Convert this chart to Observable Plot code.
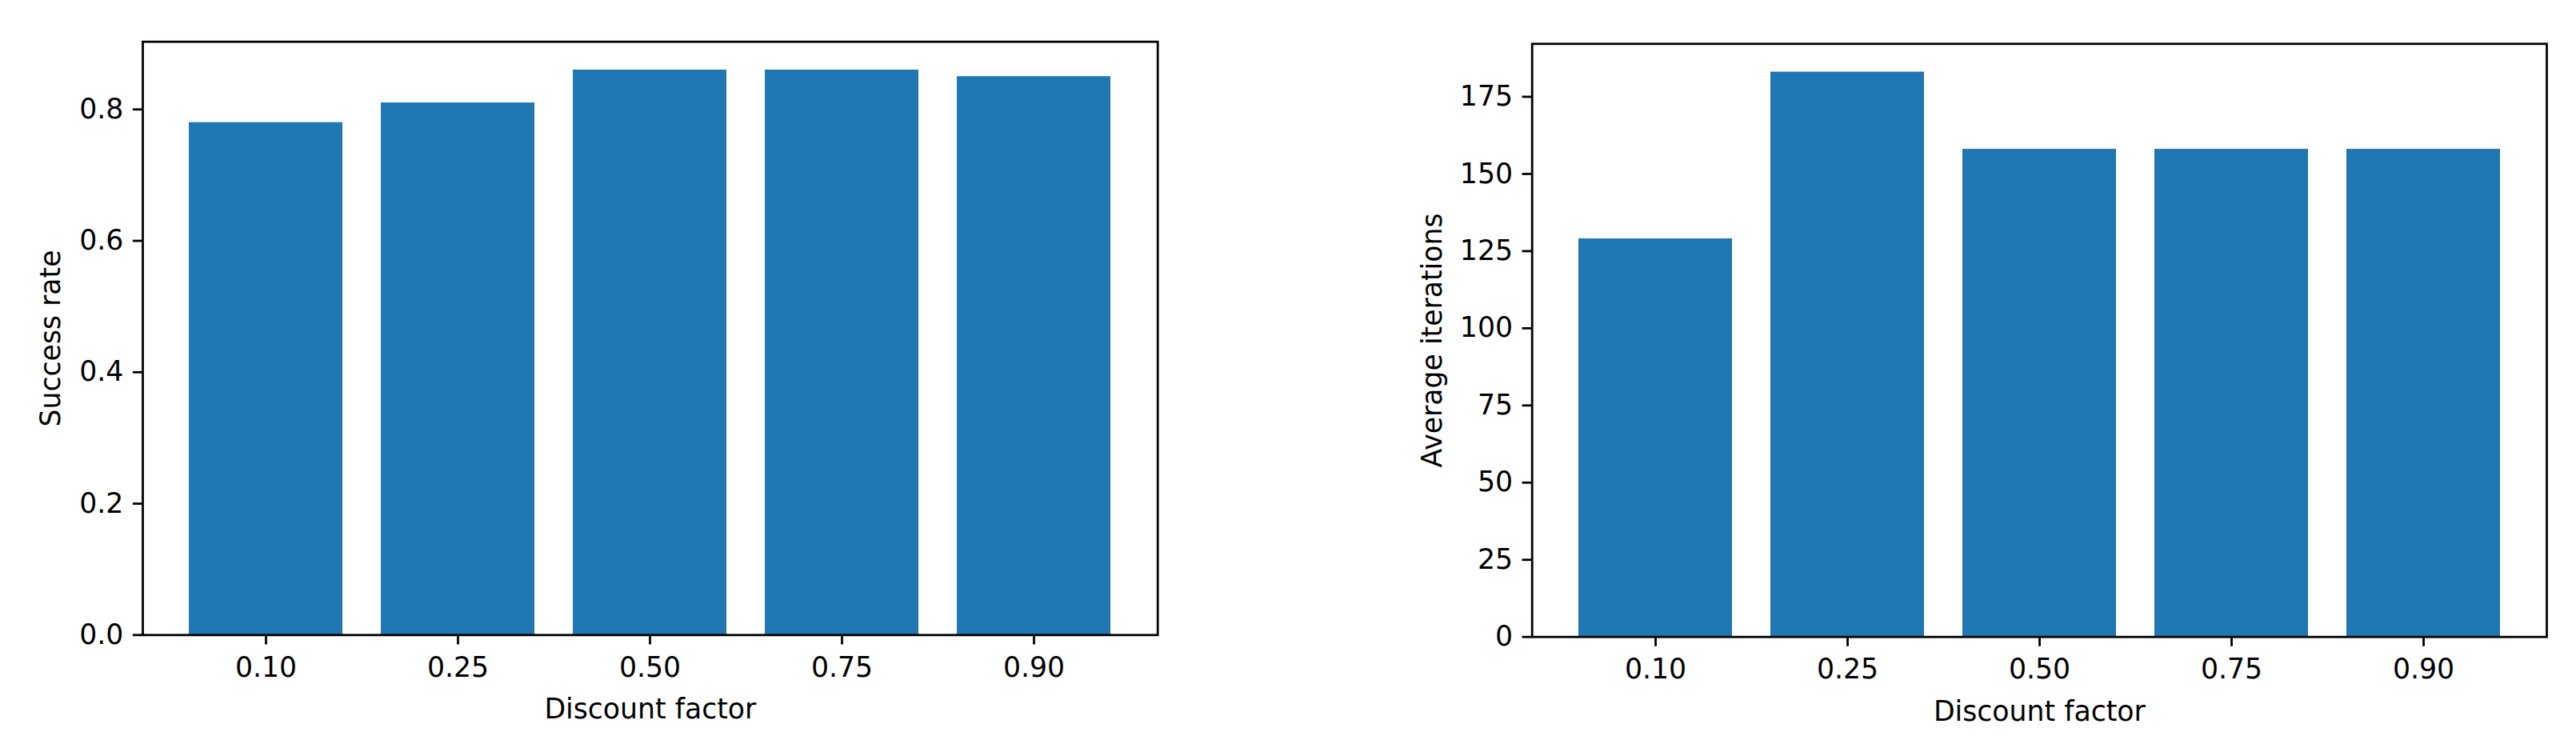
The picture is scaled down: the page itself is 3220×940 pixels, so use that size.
<!DOCTYPE html>
<html>
<head>
<meta charset="utf-8">
<script src="https://cdn.jsdelivr.net/npm/d3@7"></script>
<script src="https://cdn.jsdelivr.net/npm/@observablehq/plot@0.6"></script>
<style>
  html, body { margin: 0; padding: 0; background: white; }
  #wrap { position: relative; width: 3220px; height: 940px; background: white; }
  .panel { position: absolute; top: 0; }
</style>
</head>
<body>
<div id="wrap">
  <div id="p1" class="panel" style="left:0px"></div>
  <div id="p2" class="panel" style="left:1610px"></div>
</div>
<script>
// Data
const discountFactors = ["0.10", "0.25", "0.50", "0.75", "0.90"];
const successRate = [0.78, 0.81, 0.86, 0.86, 0.85];
const avgIterations = [129, 183, 158, 158, 158];
const successTicks = [0, 0.2, 0.4, 0.6, 0.8];
const iterTicks = [0, 25, 50, 75, 100, 125, 150, 175];
const xLabel = "Discount factor";
const yLabel1 = "Success rate";
const yLabel2 = "Average iterations";

const FS = 34.7;       // 10pt @ 250dpi
const LW = 2.78;       // 0.8pt
const TICK = 12.15;    // 3.5pt
const BLUE = "#1f77b4";

function panel({values, ticks, fmt, ymax, yLabel, margins, yLabelDx}) {
  const data = discountFactors.map((d, i) => ({x: d, y: values[i]}));
  return Plot.plot({
    width: 1610,
    height: 940,
    marginLeft: margins.left,
    marginRight: margins.right,
    marginTop: margins.top,
    marginBottom: margins.bottom,
    style: {fontFamily: "DejaVu Sans", fontSize: FS + "px", background: "white", overflow: "visible"},
    x: {type: "band", domain: discountFactors, paddingInner: 0.2, paddingOuter: 0.24, align: 0.5},
    y: {domain: [0, ymax]},
    marks: [
      Plot.barY(data, {x: "x", y: "y", fill: BLUE}),
      Plot.frame({stroke: "black", strokeWidth: LW}),
      Plot.axisX({tickSize: TICK, tickPadding: 15, strokeWidth: LW, fontSize: FS, label: null, fill: "black", stroke: "black"}),
      Plot.axisY({ticks: ticks, tickFormat: fmt, tickSize: TICK, tickPadding: 12, strokeWidth: LW, fontSize: FS, label: null, fill: "black", stroke: "black"}),
      Plot.text([xLabel], {frameAnchor: "bottom", dy: 93.5, lineAnchor: "middle", fontSize: FS, fill: "black"}),
      Plot.text([yLabel], {frameAnchor: "left", dx: yLabelDx, rotate: -90, lineAnchor: "middle", textAnchor: "middle", fontSize: FS, fill: "black"})
    ]
  });
}

document.getElementById("p1").appendChild(panel({
  values: successRate, ticks: successTicks, fmt: d3.format(".1f"),
  ymax: 0.86 * 1.05, yLabel: yLabel1,
  margins: {left: 178, right: 163.3, top: 51.7, bottom: 146.7},
  yLabelDx: 63.5 - 178
}));

document.getElementById("p2").appendChild(panel({
  values: avgIterations, ticks: iterTicks, fmt: d3.format("d"),
  ymax: 183 * 1.05, yLabel: yLabel2,
  margins: {left: 304.7, right: 37, top: 54.3, bottom: 144.3},
  yLabelDx: 1790 - 1914.7
}));
</script>
</body>
</html>
